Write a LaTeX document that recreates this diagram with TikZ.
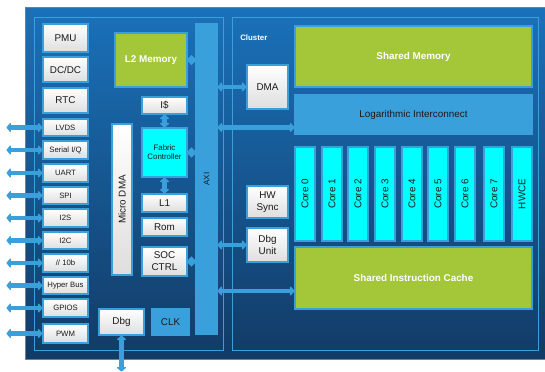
\documentclass[tikz,border=0pt]{standalone}
\usepackage{fontspec}
\setmainfont{Liberation Sans}
\usepackage{graphicx}
\usetikzlibrary{arrows.meta,shapes.geometric,calc}
\definecolor{lb}{HTML}{3AA0DC}
\definecolor{grn}{HTML}{A4C639}
\definecolor{cyn}{HTML}{00FFFF}
\definecolor{txt}{HTML}{1A1A1A}
\definecolor{wgr}{HTML}{DEDEDE}
\definecolor{otop}{HTML}{1A71BA}
\definecolor{obot}{HTML}{123B66}
\definecolor{outb}{HTML}{6C8096}
\newcommand\mkbox[7]{%
  \pgfmathsetmacro\bxw{(#5-#3)*0.75}%
  \pgfmathsetmacro\bxh{(#6-#4)*0.75}%
  \node[#2, minimum width=\bxw pt, minimum height=\bxh pt] (#1) at ({(#3+#5)/2},{(#4+#6)/2}) {#7};}
\tikzset{
  base/.style={inner sep=0pt, align=center, text=txt, font=\fontsize{7.4}{9}\selectfont, line width=0.8pt},
  wbox/.style={base, draw=lb, top color=white, bottom color=wgr},
  iobox/.style={wbox, font=\fontsize{5.8}{7}\selectfont},
  gbox/.style={base, draw=lb, fill=grn, text=white, font=\bfseries\fontsize{7.4}{9}\selectfont},
  cbox/.style={base, draw=lb, fill=cyn},
  bbox/.style={base, draw=lb, fill=lb},
  panel/.style={draw=lb, line width=0.6pt},
  arr/.style={draw=lb, line width=3.2pt, {Triangle[length=3.5pt,width=8pt,round]}-{Triangle[length=3.5pt,width=8pt,round]}},
  dmd/.style={diamond, fill=lb, inner sep=0pt, minimum width=7.5pt, minimum height=8pt},
}
\begin{document}
\begin{tikzpicture}[x=0.75pt,y=-0.75pt]
\useasboundingbox (0,0) rectangle (545,371);
% outer chip and panels
\draw[draw=outb, line width=0.6pt, top color=otop, bottom color=obot] (25,7) rectangle (545,359);
\draw[panel] (34,17) rectangle (223,350);
\draw[panel] (232,17) rectangle (538,350);
% left column
\mkbox{pmu}{wbox}{43}{24}{88}{52}{PMU}
\mkbox{dcdc}{wbox}{43}{57}{88}{82}{DC/DC}
\mkbox{rtc}{wbox}{43}{88}{88}{113}{RTC}
\mkbox{lvds}{iobox}{43}{119}{88}{136}{LVDS}
\mkbox{serial}{iobox}{43}{141}{88}{159}{Serial I/Q}
\mkbox{uart}{iobox}{43}{164}{88}{182}{UART}
\mkbox{spi}{iobox}{43}{187}{88}{204}{SPI}
\mkbox{iis}{iobox}{43}{209}{88}{227}{I2S}
\mkbox{iic}{iobox}{43}{232}{88}{249}{I2C}
\mkbox{par}{iobox}{43}{254}{88}{272}{// 10b}
\mkbox{hyper}{iobox}{43}{277}{88}{294}{Hyper Bus}
\mkbox{gpios}{iobox}{43}{299}{88}{317}{GPIOS}
\mkbox{pwm}{iobox}{43}{324}{88}{343}{PWM}
% SoC center
\mkbox{l2}{gbox}{115}{33}{187}{87}{L2 Memory}
\mkbox{icache}{wbox}{142}{97}{187}{114}{I\$}
\mkbox{fc}{cbox, font=\fontsize{5.9}{6.9}\selectfont}{142}{128}{187}{177}{Fabric\\Controller}
\mkbox{lone}{wbox}{142}{194}{187}{212}{L1}
\mkbox{rom}{wbox}{142}{218}{187}{236}{Rom}
\mkbox{socctrl}{wbox}{142}{247}{187}{276}{SOC\\CTRL}
\mkbox{udma}{wbox}{112}{124}{132}{275}{\rotatebox{90}{Micro DMA}}
\mkbox{dbg}{wbox}{99}{309}{144}{335}{Dbg}
\mkbox{clk}{bbox}{152}{309}{189}{335}{CLK}
\mkbox{axi}{bbox, font=\fontsize{6}{7}\selectfont}{196}{24}{217}{334}{\rotatebox{90}{AXI}}
% cluster
\node[anchor=west, inner sep=0pt, text=white, font=\bfseries\fontsize{5.9}{7}\selectfont] (cluster) at (240,38) {Cluster};
\mkbox{shmem}{gbox}{295}{26}{532}{87}{Shared Memory}
\mkbox{dma}{wbox}{247}{65}{288}{109}{DMA}
\mkbox{log}{bbox}{295}{95}{532}{134}{Logarithmic Interconnect}
\mkbox{core0}{cbox}{295}{147}{315}{241}{\rotatebox{90}{Core 0}}
\mkbox{core1}{cbox}{322}{147}{342}{241}{\rotatebox{90}{Core 1}}
\mkbox{core2}{cbox}{348}{147}{368}{241}{\rotatebox{90}{Core 2}}
\mkbox{core3}{cbox}{375}{147}{395}{241}{\rotatebox{90}{Core 3}}
\mkbox{core4}{cbox}{402}{147}{422}{241}{\rotatebox{90}{Core 4}}
\mkbox{core5}{cbox}{428}{147}{448}{241}{\rotatebox{90}{Core 5}}
\mkbox{core6}{cbox}{455}{147}{475}{241}{\rotatebox{90}{Core 6}}
\mkbox{core7}{cbox}{484}{147}{504}{241}{\rotatebox{90}{Core 7}}
\mkbox{hwce}{cbox}{512}{147}{532}{241}{\rotatebox{90}{HWCE}}
\mkbox{hwsync}{wbox}{247}{186}{288}{218}{HW\\Sync}
\mkbox{dbgu}{wbox}{247}{228}{288}{262}{Dbg\\Unit}
\mkbox{sic}{gbox}{295}{247}{532}{309}{Shared Instruction Cache}
% IO arrows
\foreach \n in {lvds,serial,uart,spi,iis,iic,par,hyper,gpios,pwm}{
  \coordinate (\n-pin) at ($(\n.west)+(-36,0)$);
  \draw[arr] (\n-pin) -- (\n.west);
}
\coordinate (dbgpin) at ($(dbg.south)+(0,36)$);
\draw[arr] (dbg.south) -- (dbgpin);
% internal SoC links
\draw[arr] (icache.south) -- (fc.north);
\draw[arr] (fc.south) -- (lone.north);
\path (l2.east) -- node[dmd] (d1) {} (l2.east -| axi.west);
\path (fc.east) -- node[dmd] (d2) {} (fc.east -| axi.west);
\path (socctrl.east) -- node[dmd] (d3) {} (socctrl.east -| axi.west);
% AXI to cluster
\coordinate (login) at ($(log.west)+(0,13)$);
\coordinate (sicin) at ($(sic.west)+(0,13)$);
\draw[arr] (axi.east |- dma.west) -- (dma.west);
\draw[arr] (axi.east |- login) -- (login);
\draw[arr] (axi.east |- dbgu.west) -- (dbgu.west);
\draw[arr] (axi.east |- sicin) -- (sicin);
\end{tikzpicture}
\end{document}
